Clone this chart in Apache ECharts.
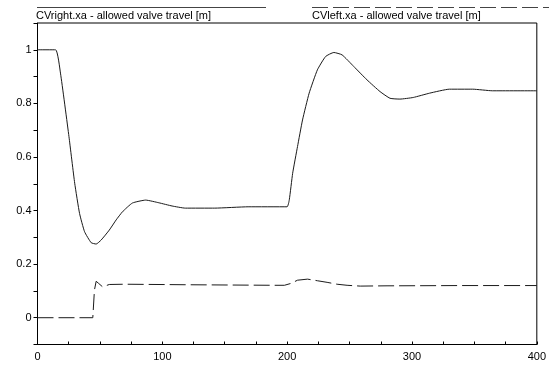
<!DOCTYPE html>
<html>
<head>
<meta charset="utf-8">
<script src="https://cdn.jsdelivr.net/npm/echarts@6/dist/echarts.min.js"></script>
<style>
  html, body { margin: 0; padding: 0; background: #fff; }
  #chart { width: 549px; height: 369px; }
</style>
</head>
<body>
<div id="chart"></div>
<script>
// series names (legend)
const seriesNames = ['CVright.xa - allowed valve travel [m]', 'CVleft.xa - allowed valve travel [m]']

// CVright.xa (solid)
const rightT = [0, 14.5, 18.4, 25.2, 29.8, 33.7, 37.7, 43, 47, 51, 57.5, 63, 68, 76, 86.7, 97.2, 107.8, 118.4, 142, 168.7, 199.9,
  201.7, 204.4, 208.3, 212.3, 217.6, 224.2, 230.8, 237.4, 244, 253.3, 263.9, 274.4, 282.4, 290.3, 301, 314, 330, 348.6, 364.4, 400]
const rightV = [1, 1, 0.913, 0.676, 0.502, 0.389, 0.321, 0.28, 0.275, 0.29, 0.327, 0.365, 0.395, 0.428, 0.439, 0.429, 0.417, 0.409, 0.409, 0.414, 0.414,
  0.44, 0.539, 0.639, 0.738, 0.838, 0.925, 0.975, 0.99, 0.981, 0.938, 0.888, 0.844, 0.819, 0.816, 0.822, 0.838, 0.853, 0.853, 0.847, 0.847]

// CVleft.xa (dashed)
const leftT = [0, 44.3, 45.6, 47, 49, 52.2, 57.5, 70, 120, 190, 197.8, 203, 208.3, 216.3, 224.2, 232, 240, 248, 258.6, 280, 340, 400]
const leftV = [0, 0, 0.103, 0.136, 0.128, 0.115, 0.124, 0.125, 0.123, 0.121, 0.121, 0.128, 0.14, 0.144, 0.138, 0.132, 0.125, 0.121, 0.118, 0.119, 0.12, 0.12]

const xMin = 0, xMax = 400, xStep = 25
const yMin = -0.1, yMax = 1.1, yStep = 0.1

const pairs = (ts, vs) => ts.map((t, i) => [t, vs[i]])
const font = '"Liberation Sans", Arial, sans-serif'
const lineColor = '#1a1a1a'

const chart = echarts.init(document.getElementById('chart'), null, { renderer: 'canvas' })

const option = {
  animation: false,
  backgroundColor: '#fff',
  grid: {
    left: 37.5,
    right: 8,
    top: 23,
    bottom: 24.5,
    show: true,
    borderColor: '#000',
    borderWidth: 1
  },
  xAxis: {
    type: 'value',
    min: xMin,
    max: xMax,
    interval: xStep,
    axisLine: { show: true, onZero: false, lineStyle: { color: '#000', width: 1 } },
    axisTick: { show: true, inside: true, length: 3, lineStyle: { color: '#000' } },
    axisLabel: {
      color: '#000',
      fontFamily: font,
      fontSize: 11,
      margin: 7,
      formatter: v => (v % 100 === 0 ? String(v) : '')
    },
    splitLine: { show: false }
  },
  yAxis: {
    type: 'value',
    min: yMin,
    max: yMax,
    interval: yStep,
    axisLine: { show: true, onZero: false, lineStyle: { color: '#000', width: 1 } },
    axisTick: { show: true, length: 4, lineStyle: { color: '#000' } },
    axisLabel: {
      color: '#000',
      fontFamily: font,
      fontSize: 11,
      margin: 6,
      formatter: v => {
        const k = Math.round(v * 10)
        return k % 2 === 0 ? String(Math.round(v * 10) / 10) : ''
      }
    },
    splitLine: { show: false }
  },
  graphic: [
    { type: 'line', shape: { x1: 37, y1: 7.5, x2: 266, y2: 7.5 }, style: { stroke: '#444', lineWidth: 1 } },
    { type: 'text', left: 36, top: 10, style: { text: seriesNames[0], font: '11px ' + font, fill: '#000' } },
    { type: 'line', shape: { x1: 312, y1: 7.5, x2: 549, y2: 7.5 }, style: { stroke: '#444', lineWidth: 1, lineDash: [16, 5] } },
    { type: 'text', left: 312, top: 10, style: { text: seriesNames[1], font: '11px ' + font, fill: '#000' } }
  ],
  series: [
    {
      name: seriesNames[0],
      type: 'line',
      data: pairs(rightT, rightV),
      showSymbol: false,
      smooth: 0.15,
      lineStyle: { color: lineColor, width: 1 }
    },
    {
      name: seriesNames[1],
      type: 'line',
      data: pairs(leftT, leftV),
      showSymbol: false,
      smooth: false,
      lineStyle: { color: lineColor, width: 1, type: [16, 5] }
    }
  ]
}

chart.setOption(option)
</script>
</body>
</html>
